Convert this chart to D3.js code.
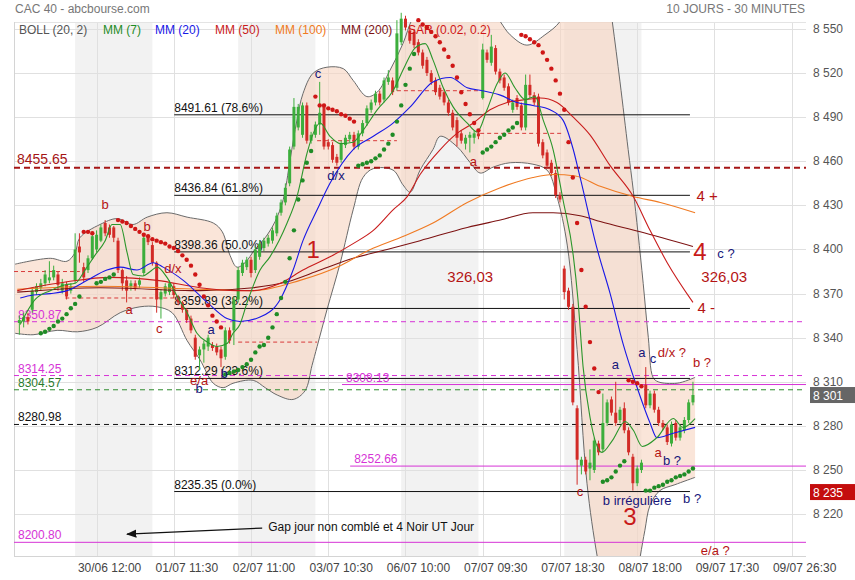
<!DOCTYPE html>
<html>
<head>
<meta charset="utf-8">
<script src="https://d3js.org/d3.v7.min.js"></script>
<title>CAC 40 - 10 jours - 30 minutes</title>
<style>
  body { margin: 0; background: #fff; }
  svg { display: block; font-family: "Liberation Sans", Arial, sans-serif; }
</style>
</head>
<body>
<div id="chart"></div>
<script>
// ---- data ----
// candles, one per 30 min slot: [open, high, low, close]
const ohlc = [
  [8350,8355,8342,8352],[8351,8357,8347,8354],[8354,8357,8349,8351],[8359,8374,8357,8372],[8371,8377,8369,8375],
  [8374,8380,8372,8377],[8377,8386,8375,8383],[8379,8392,8377,8381],[8381,8389,8379,8386],[8383,8385,8372,8376],
  [8372,8380,8370,8377],[8376,8378,8366,8368],[8372,8377,8370,8375],[8379,8411,8377,8400],[8402,8411,8391,8398],
  [8388,8391,8378,8381],[8386,8396,8384,8394],[8394,8411,8393,8409],[8400,8413,8398,8410],[8406,8417,8405,8415],
  [8418,8420,8409,8411],[8415,8417,8408,8410],[8415,8416,8405,8408],[8406,8408,8384,8386],[8386,8387,8372,8377],
  [8379,8382,8364,8372],[8375,8379,8372,8377],[8377,8379,8372,8374],[8376,8381,8374,8379],[8384,8411,8382,8408],
  [8408,8409,8403,8405],[8403,8405,8389,8391],[8391,8392,8357,8366],[8366,8373,8353,8371],[8370,8377,8368,8375],
  [8371,8379,8369,8377],[8375,8377,8367,8369],[8368,8369,8362,8364],[8364,8365,8357,8359],[8359,8360,8350,8352],
  [8353,8355,8343,8345],[8340,8342,8325,8327],[8328,8334,8318,8332],[8332,8338,8323,8336],[8334,8342,8331,8340],
  [8335,8337,8331,8333],[8334,8336,8328,8330],[8332,8334,8320,8326],[8327,8347,8325,8345],[8345,8347,8336,8338],
  [8345,8368,8335,8366],[8366,8388,8364,8386],[8384,8393,8382,8391],[8388,8395,8386,8393],[8393,8395,8381,8384],
  [8386,8402,8384,8400],[8395,8406,8393,8404],[8401,8408,8399,8406],[8404,8410,8402,8408],[8406,8415,8404,8413],
  [8411,8425,8409,8423],[8425,8434,8423,8432],[8432,8445,8430,8442],[8445,8470,8443,8468],[8470,8503,8468,8497],
  [8483,8499,8481,8497],[8478,8500,8476,8498],[8498,8500,8472,8474],[8474,8480,8472,8478],[8478,8487,8476,8485],
  [8485,8514,8478,8493],[8497,8499,8468,8470],[8473,8475,8468,8470],[8471,8473,8459,8461],[8463,8465,8457,8459],
  [8461,8474,8459,8472],[8471,8478,8469,8476],[8475,8480,8473,8478],[8478,8480,8468,8470],[8470,8481,8468,8479],
  [8479,8488,8477,8486],[8486,8498,8484,8496],[8495,8502,8493,8500],[8500,8508,8498,8506],[8506,8508,8498,8500],
  [8502,8517,8500,8515],[8514,8522,8512,8517],[8515,8517,8505,8507],[8510,8556,8508,8547],[8541,8561,8539,8557],
  [8557,8559,8549,8551],[8549,8551,8540,8542],[8548,8550,8537,8539],[8541,8543,8532,8534],[8534,8536,8523,8525],
  [8529,8531,8518,8520],[8520,8522,8512,8514],[8515,8517,8505,8507],[8510,8512,8502,8504],[8507,8509,8498,8500],
  [8500,8502,8491,8493],[8493,8495,8481,8483],[8488,8490,8470,8476],[8479,8481,8472,8474],[8472,8478,8468,8476],
  [8476,8480,8466,8478],[8476,8481,8472,8479],[8479,8481,8475,8477],[8503,8540,8502,8536],[8534,8536,8527,8529],
  [8527,8546,8525,8538],[8537,8539,8519,8521],[8521,8523,8513,8515],[8517,8519,8508,8510],[8511,8513,8498,8500],
  [8495,8502,8493,8500],[8503,8505,8495,8497],[8498,8500,8481,8483],[8483,8519,8481,8512],[8512,8519,8503,8505],
  [8505,8507,8498,8500],[8504,8506,8470,8472],[8473,8475,8462,8464],[8466,8468,8455,8457],[8459,8461,8450,8452],
  [8452,8454,8435,8437],[8437,8439,8432,8434],[8387,8389,8366,8371],[8372,8374,8359,8361],[8361,8363,8294,8296],
  [8292,8294,8240,8257],[8253,8259,8247,8257],[8257,8259,8247,8249],[8251,8264,8243,8255],[8250,8272,8248,8270],
  [8268,8270,8260,8262],[8264,8302,8262,8282],[8282,8298,8280,8296],[8298,8300,8287,8289],[8289,8310,8280,8282],
  [8284,8293,8282,8291],[8292,8296,8275,8277],[8277,8279,8260,8262],[8259,8261,8236,8241],[8241,8253,8239,8251],
  [8250,8257,8248,8255],[8308,8320,8292,8294],[8294,8304,8292,8302],[8302,8304,8289,8291],[8291,8293,8280,8282],
  [8282,8284,8277,8279],[8279,8281,8267,8269],[8268,8283,8266,8281],[8282,8284,8270,8272],[8272,8281,8270,8279],
  [8277,8286,8275,8284],[8284,8298,8282,8296],[8296,8310,8294,8301]
];

// indicator curves, [slot, price]
const mm7 = [[0.2,8349],[3.7,8366],[7.2,8372],[10.7,8376],[13,8377],[15.3,8386],[17.6,8396],[20,8406],[21.6,8417],
  [23.5,8417],[25.1,8398],[26.5,8383],[28.8,8382],[30.5,8385],[32.1,8388],[34.4,8381],[36.8,8368],[39.1,8357],
  [41.4,8343],[43.8,8337],[46.1,8334],[48.4,8336],[49.8,8343],[51.4,8349],[53.1,8364],[56.1,8386],[58.4,8395],
  [62.4,8418],[64.7,8436],[67.1,8466],[68.5,8479],[70.1,8486],[72.4,8477],[74.8,8472],[77.8,8473],[80.1,8481],
  [83.4,8495],[87.1,8508],[89.9,8525],[92.2,8537],[94.6,8540],[96.4,8529],[98.8,8510],[101.1,8497],[104.4,8486],
  [106.7,8480],[109,8495],[111.4,8513],[113.2,8520],[115.5,8510],[117.9,8502],[120.2,8504],[122.1,8488],
  [124.4,8468],[126.7,8434],[129.1,8396],[130.2,8366],[131.4,8320],[133,8286],[135.8,8262],[138.2,8270],
  [141.2,8283],[143.1,8277],[145.2,8266],[148.6,8272],[152.4,8285],[154.7,8279],[157.5,8285]];
const mm20 = [[0.2,8367],[3.2,8369],[7.2,8370],[11.1,8372],[15.8,8379],[20.4,8386],[23.5,8388],[27.4,8386],
  [31.2,8391],[33.5,8388],[38.2,8379],[43.8,8364],[48.4,8353],[51.4,8351],[56.1,8354],[60.8,8366],[63.8,8386],
  [66.1,8406],[69.4,8427],[72.4,8445],[77.8,8468],[82.5,8477],[87.1,8486],[91.1,8497],[96.4,8514],[100.4,8517],
  [104.4,8510],[107.9,8508],[112.1,8505],[116,8500],[119.7,8498],[123.7,8495],[126.7,8488],[129.1,8468],
  [130.7,8449],[134.7,8400],[137.7,8370],[140.7,8336],[144,8306],[147,8282],[148.6,8272],[152.4,8275],[157.5,8279]];
const mm50 = [[-0.5,8372],[11.1,8378],[21.1,8381],[32.1,8379],[42.1,8374],[50.7,8372],[54.5,8372],[60.8,8377],
  [66.1,8386],[72.4,8395],[77.8,8404],[82.5,8413],[87.1,8427],[90.4,8436],[93.4,8451],[98.1,8468],[102,8479],
  [105.8,8486],[109.7,8495],[113.7,8500],[118.3,8502],[121.4,8503],[125.3,8500],[129.1,8490],[133,8478],
  [137.7,8457],[143.1,8436],[147,8413],[151,8391],[157,8364]];
const mm100 = [[-0.5,8373],[18.8,8375],[42.1,8373],[54.5,8372],[65.4,8379],[74.8,8389],[81.8,8400],[88.7,8408],
  [96.4,8418],[104.4,8432],[112.1,8442],[119.7,8449],[124.4,8451],[129.6,8450],[135.4,8443],[143.1,8436],
  [149.4,8432],[157.5,8425]];
const mm200 = [[-0.5,8371],[18.8,8374],[42.1,8372],[54.5,8374],[62.4,8378],[70.1,8386],[77.8,8394],[85.7,8400],
  [93.4,8406],[104.4,8415],[112.1,8420],[119.7,8425],[124.4,8425],[130.7,8423],[135.4,8419],[144.7,8412],[157,8402]];
const bollUpper = [[-1,8390],[7.2,8394],[11.1,8392],[13,8398],[14.1,8408],[18.8,8417],[22.8,8421],[26.5,8417],
  [29.8,8422],[34.4,8425],[39.1,8422],[45.2,8418],[47.3,8412],[49.1,8396],[50.7,8388],[52.6,8391],[54.9,8400],
  [57.3,8408],[59.6,8419],[61.5,8434],[63.1,8461],[64.7,8488],[66.1,8506],[68.5,8520],[71.7,8524],[75.5,8523],
  [77.8,8515],[81,8504],[83.4,8507],[86.4,8522],[89.4,8540],[91.8,8558],[98.1,8583],[105.1,8583],[109.7,8566],
  [112.1,8555],[114.4,8546],[118.3,8539],[122.5,8546],[126,8555],[128.4,8570],[133,8624],[136.5,8590],
  [138.2,8555],[140,8514],[141.9,8468],[143.1,8440],[144.2,8411],[145.4,8377],[146.6,8340],[147.7,8313],
  [148.9,8310],[153.3,8309],[157.5,8313]];
const bollLower = [[-1,8343],[3.2,8342],[8.8,8345],[13.5,8344],[18.1,8347],[23.5,8357],[28.1,8361],[32.1,8361],
  [35.6,8357],[39.1,8338],[42.1,8325],[45.2,8309],[47.5,8306],[49.8,8309],[54.5,8311],[57.3,8306],[60.1,8301],
  [63.8,8298],[66.6,8304],[68.2,8321],[69.4,8334],[71.7,8359],[74.8,8391],[77.8,8427],[80.1,8449],[82.5,8455],
  [87.1,8454],[89.4,8444],[91.1,8439],[93.4,8454],[96.4,8468],[98.1,8477],[102,8470],[105.1,8459],[107.4,8452],
  [110.4,8456],[114.4,8459],[119.7,8458],[123,8454],[125.3,8436],[127.7,8403],[130,8332],[132.3,8241],
  [134.7,8191],[137.7,8148],[142.3,8148],[144.7,8191],[145.8,8209],[147,8226],[149.3,8236],[152.8,8240],[157.5,8245]];

// parabolic SAR dots, [slot, price]
const sarBull = [[5,8343],[6,8344],[7,8346],[8,8348],[9,8351],[10,8353],[11,8356],[12,8360],[13,8363],[14,8368],
  [18,8377],[19,8378],[20,8380],[21,8381],[22,8383],
  [48,8315],[49,8316],[50,8317],[51,8318],[52,8320],[53,8322],[54,8325],[55,8330],[56,8334],[57,8335],[58,8340],
  [59,8347],[60,8356],[61,8367],[62,8378],[63,8394],[64,8413],[65,8434],[66,8447],[67,8459],[68,8467],
  [79,8457],[80,8458],[81,8459],[82,8460],[83,8462],[84,8464],[85,8468],[86,8472],[87,8478],[88,8487],[89,8498],
  [90,8512],[91,8523],[92,8533],
  [108,8466],[109,8468],[110,8470],[111,8473],[112,8476],[113,8478],[114,8481],[115,8483],[116,8486],
  [136,8242],[137,8243],[138,8245],[139,8249],[140,8253],[141,8256],
  [146,8236],[147,8236],[148,8238],[149,8239],[150,8240],[151,8242],[152,8243],[153,8245],[154,8246],[155,8247],
  [156,8249],[157,8251]];
const sarBear = [[15,8412],[16,8412],[17,8411],
  [23,8420],[24,8419],[25,8418],[26,8416],[27,8414],[28,8412],[29,8410],[30,8409],[31,8407],[32,8406],[33,8405],
  [34,8404],[35,8402],[36,8401],[37,8399],[38,8396],[39,8393],[40,8389],[41,8383],[42,8376],[43,8368],[44,8362],
  [45,8355],[46,8351],[47,8347],
  [69,8504],[70,8498],[71,8498],[72,8496],[73,8495],[74,8494],[75,8492],[76,8491],[77,8489],[78,8487],
  [93,8556],[94,8553],[95,8551],[96,8548],[97,8545],[98,8541],[99,8536],[100,8531],[101,8525],[102,8517],
  [103,8507],[104,8499],[105,8492],[106,8486],[107,8481],
  [117,8546],[118,8545],[119,8543],[120,8541],[121,8539],[122,8534],[123,8529],[124,8523],[125,8515],[126,8506],
  [127,8495],[128,8473],[129,8449],[130,8418],[131,8386],[132,8361],[133,8337],[134,8319],[135,8303],
  [142,8311],[143,8310],[144,8309],[145,8307]];

// horizontal levels
const pivotLevel = 8455.65;
const magentaDashed = [8350.87, 8314.25];
const greenDashed = [8304.57];
const blackDashed = [8280.98];
const magentaSolid = [[8308.13, 75.2], [8252.66, 77.1], [8200.80, -1.25]]; // value, first slot
const fibLevels = [8491.61, 8436.84, 8398.36, 8359.89, 8312.29, 8235.35];
const fibPct = ["78.6%", "61.8%", "50.0%", "38.2%", "23.6%", "0.0%"];
const fibSpan = [36.1, 156.3];
const dayRefs = [[-1.25, 14.1, 8385], [10.7, 36.3, 8367], [51, 69.4, 8337], [69.4, 88, 8474], [88, 107.4, 8508], [107.4, 126.5, 8479]];

// axes
const priceTicks = d3.range(8220, 8551, 30);
const timeTicks = [18, 36, 54, 72, 90, 108, 126, 144, 162, 180];
const timeLabels = ["30/06 12:00", "01/07 11:30", "02/07 11:00", "03/07 10:30", "06/07 10:00",
  "07/07 09:30", "07/07 18:30", "08/07 18:00", "09/07 17:30", "09/07 26:30"];
const shadedDays = [13, 51, 89, 127];
const lastClose = 8301, lowMark = 8235;

// wave count labels: [text, slot, price, tone]
const notes = [
  ["b", 20.0, 8427.5, "r"], ["b", 29.8, 8412.6, "r"], ["a", 25.6, 8356.1, "r"], ["c", 32.6, 8343.2, "r"],
  ["d/x", 35.8, 8384, "r"], ["a", 44.7, 8342.5, "n"], ["e/a", 41.9, 8307.8, "r"], ["b", 41.9, 8302.4, "n"],
  ["b", 47.7, 8312.6, "n"], ["c", 69.6, 8516.6, "n"], ["d/x", 73.8, 8447.3, "n"], ["a", 105.8, 8456.8, "r"],
  ["a", 138.9, 8318.7, "n"], ["a", 145.1, 8326.8, "n"], ["c", 147.7, 8322.8, "n"], ["d/x ?", 152.1, 8326.8, "r"],
  ["b ?", 159.1, 8320, "r"], ["a", 148.9, 8258.8, "r"], ["b ?", 152.1, 8253.4, "n"], ["c", 130.7, 8232.3, "r"],
  ["b irrégulière", 144, 8226.2, "n"], ["b ?", 156.8, 8227.5, "n"], ["e/a ?", 162.2, 8192.1, "r"],
  ["c ?", 164.7, 8394.2, "n"]
];
const bigNotes = [["1", 68.5, 8394.2], ["4", 158.6, 8392.8], ["3", 142.3, 8212.6]];
const midNotes = [["326,03", 105.1, 8377.9], ["326,03", 164.3, 8377.9], ["4 +", 160.3, 8433], ["4 -", 160.1, 8356.5]];
const gapNote = { text: "Gap jour non comblé et 4 Noir UT Jour", slot: 58, price: 8208.5, from: [56.6, 8210.5], to: [25.1, 8206.4] };

// ---- drawing ----
const W = 855, H = 580;
const LEFT = 14, RIGHT = 806, TOP = 22, BOTTOM = 556;
const GREEN = "#3cae3c", RED = "#d22b27";

const svg = d3.select("#chart").append("svg").attr("width", W).attr("height", H);

const x = d3.scaleLinear().domain([-1.25, 183.35]).range([LEFT, RIGHT]);
const y = d3.scaleLinear().domain([8191.5, 8556.1]).range([BOTTOM, 20]);

svg.append("defs").append("clipPath").attr("id", "plot")
  .append("rect").attr("x", LEFT).attr("y", TOP).attr("width", RIGHT - LEFT).attr("height", BOTTOM - TOP);

// header
svg.append("text").attr("x", 15).attr("y", 13).attr("font-size", 12).attr("fill", "#777").text("CAC 40 - abcbourse.com");
svg.append("text").attr("x", 805).attr("y", 13).attr("font-size", 12).attr("fill", "#777")
  .attr("text-anchor", "end").text("10 JOURS - 30 MINUTES");

// shaded days
svg.selectAll(".day").data(shadedDays).enter().append("rect")
  .attr("x", d => x(d)).attr("width", d => x(d + 18) - x(d))
  .attr("y", TOP).attr("height", BOTTOM - TOP).attr("fill", "#f2f2f2");

// grid
svg.selectAll(".hgrid").data(priceTicks).enter().append("line")
  .attr("x1", LEFT).attr("x2", RIGHT).attr("y1", d => Math.round(y(d)) + 0.5).attr("y2", d => Math.round(y(d)) + 0.5)
  .attr("stroke", "#e0e0e0");
svg.selectAll(".vgrid").data(timeTicks).enter().append("line")
  .attr("x1", d => Math.round(x(d)) + 0.5).attr("x2", d => Math.round(x(d)) + 0.5).attr("y1", TOP).attr("y2", BOTTOM)
  .attr("stroke", "#e0e0e0");
svg.append("line").attr("x1", LEFT).attr("x2", RIGHT).attr("y1", TOP + 0.5).attr("y2", TOP + 0.5).attr("stroke", "#e4e4e4");
svg.append("line").attr("x1", LEFT + 0.5).attr("x2", LEFT + 0.5).attr("y1", TOP).attr("y2", BOTTOM).attr("stroke", "#d4d4d4");
svg.append("line").attr("x1", LEFT).attr("x2", RIGHT).attr("y1", BOTTOM + 0.5).attr("y2", BOTTOM + 0.5).attr("stroke", "#d4d4d4");

// bollinger
const plot = svg.append("g").attr("clip-path", "url(#plot)");
const smooth = d3.line().x(d => x(d[0])).y(d => y(d[1])).curve(d3.curveCatmullRom.alpha(0.5));
const bandPath = smooth(bollUpper) + smooth(bollLower.slice().reverse()).replace(/^M/, "L") + "Z";
plot.append("path").attr("d", bandPath).attr("fill", "#f6d3bf").attr("fill-opacity", 0.6);
[bollUpper, bollLower].forEach(b => {
  plot.append("path").attr("d", smooth(b)).attr("fill", "none").attr("stroke", "#6a6a6a").attr("stroke-width", 1);
});

// levels
function hline(v, x1, x2, color, dash, width) {
  svg.append("line").attr("x1", x1).attr("x2", x2).attr("y1", y(v)).attr("y2", y(v))
    .attr("stroke", color).attr("stroke-width", width || 1).attr("stroke-dasharray", dash || null);
}
function label(txt, px, v, color, size) {
  svg.append("text").attr("x", px).attr("y", y(v) - 3).attr("font-size", size || 12).attr("fill", color).text(txt);
}
dayRefs.forEach(d => hline(d[2], x(d[0]), x(d[1]), "#d83a3a", "4,3"));
fibLevels.forEach((v, i) => {
  hline(v, x(fibSpan[0]), x(fibSpan[1]), "#111");
  label(d3.format(".2f")(v) + "  (" + fibPct[i] + ")", x(fibSpan[0]), v, "#111");
});
hline(pivotLevel, LEFT, RIGHT, "#a51515", "6,4", 2);
svg.append("text").attr("x", 17).attr("y", y(pivotLevel) - 4).attr("font-size", 14).attr("fill", "#a51515").text(pivotLevel.toFixed(2));
magentaDashed.forEach(v => { hline(v, LEFT, RIGHT, "#d633d6", "5,4"); label(v.toFixed(2), 18, v, "#d633d6"); });
greenDashed.forEach(v => { hline(v, LEFT, RIGHT, "#2e8b2e", "5,4"); label(v.toFixed(2), 18, v, "#2a7a2a"); });
blackDashed.forEach(v => { hline(v, LEFT, RIGHT, "#111", "5,4"); label(v.toFixed(2), 18, v, "#111"); });
magentaSolid.forEach(d => {
  const x0 = Math.max(LEFT, x(d[1]));
  hline(d[0], x0, RIGHT, "#d633d6");
  label(d[0].toFixed(2), x0 + 4, d[0], "#d633d6");
});

// candles
const bodyW = 3;
const cg = svg.append("g");
cg.selectAll(".wick").data(ohlc).enter().append("line")
  .attr("x1", (d, i) => x(i)).attr("x2", (d, i) => x(i))
  .attr("y1", d => y(d[1])).attr("y2", d => y(d[2]))
  .attr("stroke", d => d[3] >= d[0] ? GREEN : RED).attr("stroke-width", 1);
cg.selectAll(".body").data(ohlc).enter().append("rect")
  .attr("x", (d, i) => x(i) - bodyW / 2).attr("width", bodyW)
  .attr("y", d => y(Math.max(d[0], d[3])))
  .attr("height", d => Math.max(1, Math.abs(y(d[0]) - y(d[3]))))
  .attr("fill", d => d[3] >= d[0] ? GREEN : RED);

// moving averages
const mline = d3.line().x(d => x(d[0])).y(d => y(d[1])).curve(d3.curveMonotoneX);
[[mm200, "#7d1212"], [mm100, "#f07a22"], [mm50, "#c91c1c"], [mm20, "#1818e6"], [mm7, "#2b962b"]].forEach(m => {
  svg.append("path").attr("d", mline(m[0])).attr("fill", "none").attr("stroke", m[1]).attr("stroke-width", 1.1);
});

// SAR
svg.selectAll(".sarB").data(sarBull).enter().append("circle")
  .attr("cx", d => x(d[0])).attr("cy", d => y(d[1])).attr("r", 2.2).attr("fill", "#1f8c26");
svg.selectAll(".sarS").data(sarBear).enter().append("circle")
  .attr("cx", d => x(d[0])).attr("cy", d => y(d[1])).attr("r", 2.2).attr("fill", "#cf1616");

// annotations
const tone = { r: "#b51414", n: "#16167a" };
svg.selectAll(".note").data(notes).enter().append("text")
  .attr("x", d => x(d[1])).attr("y", d => y(d[2])).attr("text-anchor", "middle")
  .attr("font-size", 13).attr("fill", d => tone[d[3]]).text(d => d[0]);
svg.selectAll(".mid").data(midNotes).enter().append("text")
  .attr("x", d => x(d[1])).attr("y", d => y(d[2])).attr("text-anchor", "middle")
  .attr("font-size", 15).attr("fill", tone.r).text(d => d[0]);
svg.selectAll(".big").data(bigNotes).enter().append("text")
  .attr("x", d => x(d[1])).attr("y", d => y(d[2])).attr("text-anchor", "middle")
  .attr("font-size", 24).attr("fill", "#c81a1a").text(d => d[0]);

svg.append("defs").append("marker").attr("id", "arrow").attr("viewBox", "0 0 10 10")
  .attr("refX", 9).attr("refY", 5).attr("markerWidth", 8).attr("markerHeight", 8).attr("orient", "auto")
  .append("path").attr("d", "M0,1 L10,5 L0,9 Z").attr("fill", "#111");
svg.append("line").attr("x1", x(gapNote.from[0])).attr("y1", y(gapNote.from[1]))
  .attr("x2", x(gapNote.to[0])).attr("y2", y(gapNote.to[1]))
  .attr("stroke", "#111").attr("stroke-width", 1.3).attr("marker-end", "url(#arrow)");
svg.append("text").attr("x", x(gapNote.slot)).attr("y", y(gapNote.price)).attr("font-size", 12)
  .attr("fill", "#111").text(gapNote.text);

// legend
const legend = [["BOLL (20, 2)", "#555", 19], ["MM (7)", "#1f8c26", 103], ["MM (20)", "#1818e6", 155],
  ["MM (50)", "#c91c1c", 215], ["MM (100)", "#f07a22", 275], ["MM (200)", "#7d1212", 341], ["SAR (0.02, 0.2)", "#cf1616", 408]];
legend.forEach(l => {
  svg.append("text").attr("x", l[2]).attr("y", 34).attr("font-size", 12).attr("fill", l[1]).text(l[0]);
});

// right axis
const fmt = d3.formatLocale({ decimal: ".", thousands: " ", grouping: [3], currency: ["", ""] }).format(",");
svg.selectAll(".ptick").data(priceTicks).enter().append("text")
  .attr("x", 813).attr("y", d => y(d) + 4).attr("font-size", 12).attr("fill", "#555").text(d => fmt(d));
[[lastClose, "#666"], [lowMark, "#c40d0d"]].forEach(b => {
  svg.append("rect").attr("x", 810).attr("y", y(b[0]) - 8).attr("width", 45).attr("height", 16).attr("fill", b[1]);
  svg.append("text").attr("x", 813).attr("y", y(b[0]) + 4.5).attr("font-size", 12).attr("fill", "#fff").text(fmt(b[0]));
});

// time axis
svg.selectAll(".ttick").data(timeTicks).enter().append("text")
  .attr("x", d => x(d) + 13).attr("y", 572).attr("text-anchor", "middle")
  .attr("font-size", 12).attr("fill", "#444").text((d, i) => timeLabels[i]);
</script>
</body>
</html>
